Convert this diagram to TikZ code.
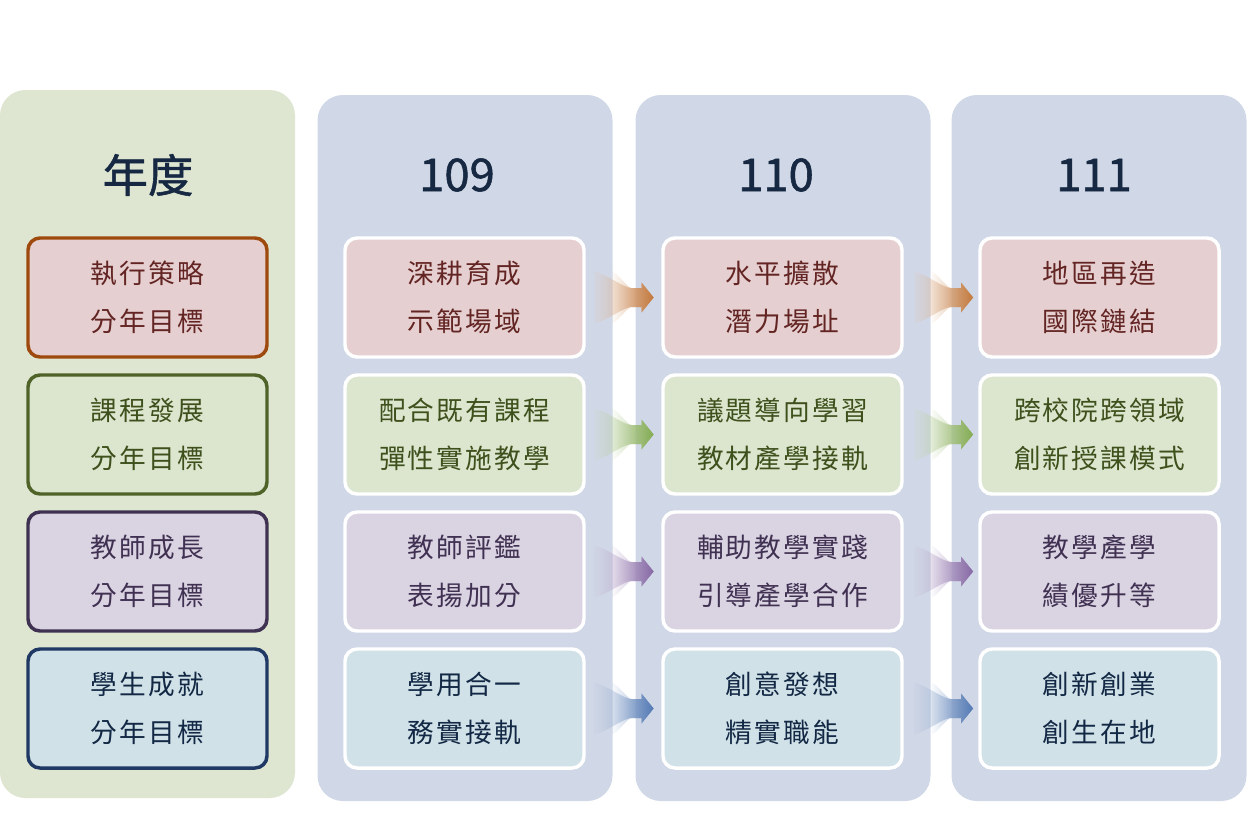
\documentclass[tikz,border=0pt]{standalone}
\usepackage{fontspec}
\setmainfont{Noto Sans CJK TC}
\newfontfamily\goalfont[LetterSpace=8]{Noto Sans CJK TC}
\newfontfamily\headfont[FakeBold=1.2]{Noto Sans CJK TC}
\usetikzlibrary{positioning,calc,fadings}

\definecolor{yearbg}{RGB}{222,230,209}
\definecolor{colbg}{RGB}{208,215,230}
\definecolor{headtxt}{RGB}{22,40,66}
% one set of colours per row
\definecolor{fillred}{RGB}{230,207,208}
\definecolor{drawred}{RGB}{158,74,14}
\definecolor{txtred}{RGB}{99,37,35}
\definecolor{arrred}{RGB}{196,122,62}
\definecolor{fillgreen}{RGB}{220,229,206}
\definecolor{drawgreen}{RGB}{79,98,40}
\definecolor{txtgreen}{RGB}{62,80,28}
\definecolor{arrgreen}{RGB}{132,172,84}
\definecolor{fillpurple}{RGB}{217,211,226}
\definecolor{drawpurple}{RGB}{63,49,81}
\definecolor{txtpurple}{RGB}{64,49,82}
\definecolor{arrpurple}{RGB}{135,105,165}
\definecolor{fillblue}{RGB}{208,225,232}
\definecolor{drawblue}{RGB}{31,56,100}
\definecolor{txtblue}{RGB}{18,40,68}
\definecolor{arrblue}{RGB}{84,122,180}

\tikzfading[name=arrowfade, left color=transparent!90, middle color=transparent!10, right color=transparent!0]

\tikzset{
  panel/.style={rounded corners=19pt, minimum width=221.25pt, inner sep=0pt},
  head/.style={text=headtxt, font=\headfont\fontsize{34pt}{40pt}\selectfont},
  goal/.style={rounded corners=9pt, minimum width=179.25pt, minimum height=89.25pt,
    line width=2.6pt, align=center, inner sep=0pt,
    font=\goalfont\fontsize{20pt}{36pt}\selectfont},
  flowarrow/.pic={
    \foreach \t in {-29,-11}
    \shade[left color=arrowcol!45, right color=arrowcol, path fading=arrowfade]
      (\t,-26) .. controls (0.6*\t+3,-22) and (0.2*\t+6,-9.5) .. (8,-9.5)
      -- (18,-9.5) -- (18,-15) -- (30,0) -- (18,15) -- (18,9.5) -- (8,9.5)
      .. controls (0.2*\t+6,9.5) and (0.6*\t+3,22) .. (\t,26) -- cycle;
  }
}

\begin{document}
\begin{tikzpicture}[x=0.75pt, y=-0.75pt]
\useasboundingbox (0,0) rectangle (1248,815);

% columns
\node[panel, fill=yearbg, minimum height=531pt] (yearcol) at (147.5,444) {};
\foreach \yr/\cx in {109/465,110/783,111/1099}
  \node[panel, fill=colbg, minimum height=529.5pt] (col\yr) at (\cx,448) {};

\node[head] (hyear) at (148,175) {年度};
\foreach \yr/\hx in {109/457,110/776,111/1094}
  \node[head] (h\yr) at (\hx,175) {\yr};

% rows
\foreach \r/\rc/\lt/\ta/\tb/\tc in {
  1/red/{執行策略\\分年目標}/{深耕育成\\示範場域}/{水平擴散\\潛力場址}/{地區再造\\國際鏈結},
  2/green/{課程發展\\分年目標}/{配合既有課程\\彈性實施教學}/{議題導向學習\\教材產學接軌}/{跨校院跨領域\\創新授課模式},
  3/purple/{教師成長\\分年目標}/{教師評鑑\\表揚加分}/{輔助教學實踐\\引導產學合作}/{教學產學\\績優升等},
  4/blue/{學生成就\\分年目標}/{學用合一\\務實接軌}/{創意發想\\精實職能}/{創新創業\\創生在地}}
{
  \colorlet{arrowcol}{arr\rc}
  \node[goal, draw=draw\rc, fill=fill\rc, text=txt\rc] (g\r) at (147.5,{160.5+137*\r}) {\lt};
  \node[goal, draw=white, fill=fill\rc, text=txt\rc] (a\r) at (464.5,{160.5+137*\r}) {\ta};
  \node[goal, draw=white, fill=fill\rc, text=txt\rc] (b\r) at (782.5,{160.5+137*\r}) {\tb};
  \node[goal, draw=white, fill=fill\rc, text=txt\rc] (c\r) at (1099.5,{160.5+137*\r}) {\tc};
  \pic at ($(a\r.east)!0.5!(b\r.west)$) {flowarrow};
  \pic at ($(b\r.east)!0.5!(c\r.west)+(2,0)$) {flowarrow};
}
\end{tikzpicture}
\end{document}
